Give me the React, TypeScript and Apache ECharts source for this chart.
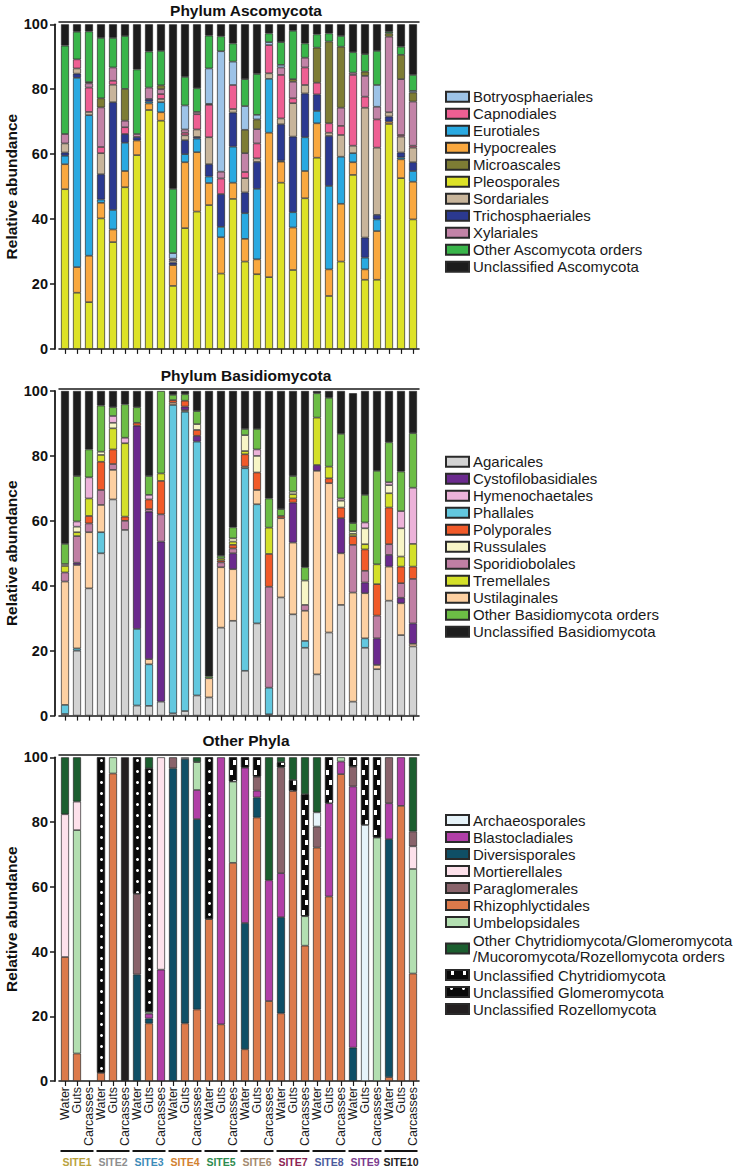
import React, { useEffect, useRef } from "react";
import * as echarts from "echarts";

const FONT = "'Liberation Sans', Arial, Helvetica, sans-serif";

const SITES = ["SITE1", "SITE2", "SITE3", "SITE4", "SITE5", "SITE6", "SITE7", "SITE8", "SITE9", "SITE10"];
const SITE_COLORS = ["#b9a23c", "#8e8e8e", "#3d8bb8", "#d2812f", "#2e8b4e", "#a48a6e", "#8c2452", "#4c5b9c", "#7b3b8d", "#222222"];
const SAMPLE_TYPES = ["Water", "Guts", "Carcasses"];
const CATEGORIES = SITES.flatMap((s) => SAMPLE_TYPES.map((t) => s + "|" + t));
const Y_TICKS = [0, 20, 40, 60, 80, 100];
const PANEL_TITLES = ["Phylum Ascomycota", "Phylum Basidiomycota", "Other Phyla"];
const Y_AXIS_NAME = "Relative abundance";

// ---------- Phylum Ascomycota (relative abundance, %) ----------
const pleosporales = [49.2, 17.3, 14.4, 40.2, 32.9, 49.8, 59.7, 73.6, 70.3, 19.4, 37.2, 42.3, 44.3, 23.2, 46.2, 26.9, 23.0, 22.1, 51.2, 24.3, 46.4, 58.9, 16.3, 26.9, 53.6, 21.3, 21.3, 69.3, 52.6, 39.9];
const hypocreales = [7.7, 7.9, 14.3, 4.8, 3.9, 5.0, 4.5, 2.0, 2.6, 6.4, 20.3, 18.3, 6.8, 11.2, 5.0, 7.0, 4.6, 44.5, 6.5, 13.1, 8.4, 10.6, 8.2, 17.8, 3.9, 3.2, 15.0, 0.7, 5.8, 11.6];
const eurotiales = [2.6, 58.3, 43.3, 1.0, 6.0, 8.7, 0, 0.6, 3.1, 0, 2.5, 4.2, 2.0, 3.2, 11.1, 7.9, 21.7, 16.6, 0.3, 4.7, 10.4, 3.8, 25.7, 14.5, 2.8, 3.6, 3.6, 0, 0.6, 3.3];
const trichosphaeriales = [1.0, 1.3, 0, 7.8, 33.2, 2.7, 1.1, 0.8, 0, 0.8, 4.3, 0.5, 3.8, 10.1, 10.5, 6.4, 8.3, 0, 11.2, 23.3, 13.5, 5.1, 15.4, 0, 0, 6.2, 1.4, 1.6, 1.5, 2.7];
const sordariales = [2.8, 1.6, 1.0, 6.5, 5.4, 0, 0, 0, 1.0, 0.7, 1.5, 2.3, 8.3, 0, 1.1, 4.4, 1.1, 1.7, 1.8, 10.3, 2.6, 0, 1.0, 6.7, 2.3, 40.0, 20.7, 1.3, 4.9, 4.5];
const capnodiales = [0, 2.8, 7.5, 1.9, 1.2, 2.1, 0, 0, 1.5, 0, 0.8, 4.7, 10.0, 4.8, 7.4, 1.9, 4.6, 8.7, 13.4, 1.5, 5.4, 3.6, 2.9, 2.8, 21.8, 3.4, 8.7, 0, 0.5, 0.6];
const xylariales = [2.9, 0, 1.3, 12.2, 4.1, 2.0, 0.9, 3.5, 1.5, 0.5, 1.0, 0.7, 0.3, 2.1, 0, 5.8, 4.4, 0, 2.3, 5.1, 3.0, 0, 0, 5.6, 0.7, 6.4, 3.9, 23.3, 17.2, 13.6];
const microascales = [0, 0, 0.4, 2.8, 0, 9.8, 0, 0, 1.2, 0, 0, 0, 0, 0, 0, 7.2, 3.0, 0, 0, 0.8, 0, 10.8, 25.2, 18.8, 0, 1.3, 0, 1.0, 7.5, 2.8];
const botryosphaeriales = [0, 0, 0, 0, 0, 0, 0, 0, 0, 1.7, 7.4, 0, 10.9, 37.1, 7.2, 7.3, 1.4, 0.9, 0.8, 0, 0, 0, 0, 0, 0, 0, 6.7, 0, 0, 0.5];
const otherAscomycota = [27.2, 8.5, 15.6, 18.6, 9.1, 16.3, 19.9, 11.1, 10.6, 19.8, 8.8, 7.3, 10.1, 4.6, 5.6, 8.3, 12.6, 2.7, 7.0, 14.9, 4.4, 4.1, 2.5, 3.3, 6.3, 5.4, 10.5, 0.5, 2.5, 4.9];
const unclassifiedAscomycota = [6.6, 2.3, 2.2, 4.2, 4.2, 3.6, 13.9, 8.4, 8.2, 50.7, 16.2, 19.7, 3.5, 3.7, 5.9, 16.9, 15.3, 2.8, 5.5, 2.0, 5.9, 3.1, 2.8, 3.6, 8.6, 9.2, 8.2, 2.3, 6.9, 15.6];

// ---------- Phylum Basidiomycota ----------
const agaricales = [0.5, 20.0, 39.2, 50.0, 66.6, 57.2, 3.1, 3.0, 4.3, 0.7, 1.4, 6.2, 5.6, 27.1, 29.2, 13.8, 28.4, 0.4, 36.4, 31.2, 20.9, 12.7, 25.6, 34.1, 4.3, 20.9, 14.3, 35.4, 24.8, 21.3];
const phallales = [2.8, 0.7, 0, 6.5, 0, 0, 23.6, 12.8, 0, 95.0, 92.2, 78.2, 0, 0, 0, 62.4, 36.7, 8.2, 0, 0, 2.1, 0, 0, 0, 0, 2.9, 0, 0, 0, 0];
const ustilaginales = [38.0, 25.7, 17.3, 8.4, 9.1, 0, 0, 1.6, 0, 0.7, 0.5, 0, 5.9, 18.6, 15.9, 0.5, 4.4, 0, 24.4, 22.1, 9.3, 62.7, 46.0, 15.9, 33.6, 13.9, 1.3, 10.5, 9.8, 0.8];
const cystofilobasidiales = [0, 0.7, 0, 0, 0, 0, 62.6, 45.4, 49.3, 0, 1.1, 1.8, 0, 0, 4.9, 0, 0, 0, 0, 12.3, 0, 1.8, 0, 10.8, 0, 3.3, 8.2, 3.6, 1.7, 6.3];
const sporidiobolales = [2.8, 8.2, 2.7, 4.6, 1.8, 2.8, 0, 0.8, 8.4, 0, 0, 0, 0, 1.5, 1.5, 0, 0, 31.1, 0, 0, 1.8, 0, 0, 0, 14.7, 3.6, 7.0, 3.3, 4.5, 13.7];
const polyporales = [0, 0, 2.3, 8.7, 4.5, 1.3, 0.9, 3.0, 10.3, 0.8, 1.8, 1.8, 0, 0.6, 1.1, 3.8, 5.4, 10.1, 0.7, 1.3, 0, 0, 1.5, 3.3, 2.7, 6.6, 9.7, 11.3, 5.1, 3.8];
const tremellales = [2.0, 1.2, 5.4, 2.1, 6.5, 22.6, 0, 0, 2.3, 0, 0, 0, 0, 0.6, 1.0, 1.0, 0, 8.1, 0, 1.3, 0, 14.6, 3.6, 0, 0.7, 1.6, 6.1, 4.4, 3.1, 7.0];
const russulales = [0.6, 1.7, 0, 1.0, 1.7, 0, 0, 0, 0, 0, 0, 1.8, 0, 0, 1.0, 4.9, 5.1, 0, 0, 0.8, 7.5, 0, 0, 2.1, 0.8, 4.9, 0, 2.5, 8.7, 0];
const hymenochaetales = [0, 1.6, 6.5, 0, 2.1, 1.7, 0, 1.4, 0, 0, 0, 0, 0, 0, 0, 0, 2.0, 0, 0, 0, 0, 0, 0, 0.7, 0, 1.8, 0, 0.9, 5.3, 17.3];
const otherBasidiomycota = [6.2, 14.0, 8.6, 14.2, 2.7, 10.3, 4.8, 5.8, 25.4, 1.6, 2.0, 4.0, 0.6, 0.8, 3.4, 1.9, 6.3, 9.0, 2.1, 4.8, 4.1, 7.5, 21.2, 19.9, 2.5, 8.5, 28.8, 12.3, 12.2, 16.8];
const unclassifiedBasidiomycota = [47.1, 26.2, 18.0, 4.5, 5.0, 4.1, 5.0, 26.2, 0, 1.2, 1.0, 6.2, 87.9, 50.8, 42.0, 11.7, 11.7, 33.1, 36.4, 26.2, 54.3, 0.7, 2.1, 13.2, 40.0, 32.0, 24.6, 15.8, 24.8, 13.0];

// ---------- Other Phyla ----------
const rhizophlyctidales = [38.3, 8.5, 0, 2.5, 95.0, 0, 0, 17.8, 0, 0, 17.8, 22.1, 50.0, 17.5, 67.4, 9.8, 81.4, 24.7, 20.9, 89.6, 41.8, 72.1, 57.0, 94.8, 0, 0, 0, 1.2, 85.0, 33.2];
const diversisporales = [0, 0, 0, 0, 0, 0, 32.9, 1.5, 0, 96.6, 81.7, 58.8, 0, 0, 0, 39.0, 6.2, 0, 29.7, 0, 0, 0, 0, 0, 10.3, 0, 0, 73.5, 0, 0];
const blastocladiales = [0, 0, 0, 0, 0, 0, 0, 1.5, 34.4, 0, 0, 9.0, 0, 82.5, 0, 48.0, 2.1, 37.3, 13.6, 0, 0, 0, 28.8, 3.9, 80.7, 0, 0, 11.1, 15.0, 0];
const umbelopsidales = [0, 69.0, 0, 0, 5.0, 0, 0, 0.6, 0, 0, 0, 8.6, 0, 0, 25.1, 0, 0, 0, 0, 0, 9.1, 0, 0, 1.3, 0, 0, 75.2, 0, 0, 32.3];
const mortierellales = [44.1, 8.8, 0, 0, 0, 0, 0, 0, 65.6, 0, 0, 0, 0, 0, 0, 0, 0, 0, 0, 0, 0, 0, 0, 0, 0, 0, 0, 0, 0, 7.0];
const paraglomerales = [0, 0, 0, 0, 0, 0, 24.9, 0, 0, 3.4, 0, 0, 0, 0, 0, 0, 4.3, 0, 32.7, 0, 0, 6.5, 0, 0, 6.1, 0, 0, 14.2, 0, 4.6];
const archaeosporales = [0, 0, 0, 0, 0, 0, 0, 0, 0, 0, 0.5, 0, 0, 0, 0, 0, 0, 0, 0, 0, 0, 4.4, 0, 0, 0, 79.1, 0, 0, 0, 0];
const unclassifiedGlomeromycota = [0, 0, 0, 97.5, 0, 0, 42.2, 75.2, 0, 0, 0, 0, 50.0, 0, 0, 0, 0, 0, 0, 0, 0, 0, 0, 0, 0, 0, 0, 0, 0, 0];
const unclassifiedChytridiomycota = [0, 0, 0, 0, 0, 0, 0, 0, 0, 0, 0, 0, 0, 0, 7.5, 3.2, 6.0, 0, 1.6, 3.4, 37.7, 0, 14.2, 0, 2.9, 20.9, 24.8, 0, 0, 0];
const unclassifiedRozellomycota = [0, 0, 0, 0, 0, 100, 0, 0, 0, 0, 0, 0, 0, 0, 0, 0, 0, 0, 0, 0, 0, 0, 0, 0, 0, 0, 0, 0, 0, 0];
const otherOrders = [17.6, 13.7, 0, 0, 0, 0, 0, 3.4, 0, 0, 0, 1.5, 0, 0, 0, 0, 0, 38.0, 1.5, 7.0, 11.4, 17.0, 0, 0, 0, 0, 0, 0, 0, 22.9];

const OTHER_ORDERS_NAME = "Other Chytridiomycota/Glomeromycota\n/Mucoromycota/Rozellomycota orders";

const DOTS_DECAL = { symbol: "circle", symbolSize: 1, color: "#ffffff", dashArrayX: [[0, 4, 3, 5]], dashArrayY: [3, 8], rotation: 0 };
const SQUARES_DECAL = { symbol: "rect", symbolSize: 1, color: "#ffffff", dashArrayX: [[0, 2, 3, 7], [0, 5, 3, 4]], dashArrayY: [5, 5], rotation: 0 };

type S = { name: string; color: string; data: number[]; decal?: any };

// stacking order (bottom -> top)
const ASCO_SERIES: S[] = [
  { name: "Pleosporales", color: "#dde227", data: pleosporales },
  { name: "Hypocreales", color: "#f9a83f", data: hypocreales },
  { name: "Eurotiales", color: "#29a9e1", data: eurotiales },
  { name: "Trichosphaeriales", color: "#2b3990", data: trichosphaeriales },
  { name: "Sordariales", color: "#c8b59b", data: sordariales },
  { name: "Capnodiales", color: "#ee5f93", data: capnodiales },
  { name: "Xylariales", color: "#c283a7", data: xylariales },
  { name: "Microascales", color: "#7d7c34", data: microascales },
  { name: "Botryosphaeriales", color: "#9dc3e7", data: botryosphaeriales },
  { name: "Other Ascomycota orders", color: "#39b54a", data: otherAscomycota },
  { name: "Unclassified Ascomycota", color: "#1c1c1c", data: unclassifiedAscomycota },
];
const ASCO_LEGEND = ["Botryosphaeriales", "Capnodiales", "Eurotiales", "Hypocreales", "Microascales", "Pleosporales", "Sordariales", "Trichosphaeriales", "Xylariales", "Other Ascomycota orders", "Unclassified Ascomycota"];

const BASIDIO_SERIES: S[] = [
  { name: "Agaricales", color: "#d3d3d3", data: agaricales },
  { name: "Phallales", color: "#63c8df", data: phallales },
  { name: "Ustilaginales", color: "#fdd0a2", data: ustilaginales },
  { name: "Cystofilobasidiales", color: "#6b2a8e", data: cystofilobasidiales },
  { name: "Sporidiobolales", color: "#c07fa4", data: sporidiobolales },
  { name: "Polyporales", color: "#f15a29", data: polyporales },
  { name: "Tremellales", color: "#d4e02a", data: tremellales },
  { name: "Russulales", color: "#f7f5c6", data: russulales },
  { name: "Hymenochaetales", color: "#ecb2d9", data: hymenochaetales },
  { name: "Other Basidiomycota orders", color: "#6cbd45", data: otherBasidiomycota },
  { name: "Unclassified Basidiomycota", color: "#1e1e1e", data: unclassifiedBasidiomycota },
];
const BASIDIO_LEGEND = ["Agaricales", "Cystofilobasidiales", "Hymenochaetales", "Phallales", "Polyporales", "Russulales", "Sporidiobolales", "Tremellales", "Ustilaginales", "Other Basidiomycota orders", "Unclassified Basidiomycota"];

const OTHER_SERIES: S[] = [
  { name: "Rhizophlyctidales", color: "#dc7a4b", data: rhizophlyctidales },
  { name: "Diversisporales", color: "#0f4f66", data: diversisporales },
  { name: "Blastocladiales", color: "#b13fa7", data: blastocladiales },
  { name: "Umbelopsidales", color: "#b3dfb1", data: umbelopsidales },
  { name: "Mortierellales", color: "#fde1eb", data: mortierellales },
  { name: "Paraglomerales", color: "#89636b", data: paraglomerales },
  { name: "Archaeosporales", color: "#e6f3f9", data: archaeosporales },
  { name: "Unclassified Glomeromycota", color: "#0a0a0a", data: unclassifiedGlomeromycota, decal: DOTS_DECAL },
  { name: "Unclassified Chytridiomycota", color: "#0a0a0a", data: unclassifiedChytridiomycota, decal: SQUARES_DECAL },
  { name: "Unclassified Rozellomycota", color: "#231f20", data: unclassifiedRozellomycota },
  { name: OTHER_ORDERS_NAME, color: "#1b5e2f", data: otherOrders },
];
const OTHER_LEGEND = ["Archaeosporales", "Blastocladiales", "Diversisporales", "Mortierellales", "Paraglomerales", "Rhizophlyctidales", "Umbelopsidales", OTHER_ORDERS_NAME, "Unclassified Chytridiomycota", "Unclassified Glomeromycota", "Unclassified Rozellomycota"];

const PANELS = [
  { series: ASCO_SERIES, legend: ASCO_LEGEND },
  { series: BASIDIO_SERIES, legend: BASIDIO_LEGEND },
  { series: OTHER_SERIES, legend: OTHER_LEGEND },
];

// layout
const GRID_LEFT = 59;
const GRID_WIDTH = 360;
const GRID_TOPS = [24.3, 391, 757.3];
const GRID_HEIGHT = 324.6;
const TITLE_TOPS = [2, 367, 732];
const LEGEND_TOPS = [88.2, 453.2, 811.5];
const AXIS_COLOR = "#1a1a1a";

function buildOption() {
  const grid = GRID_TOPS.map((top) => ({ left: GRID_LEFT, top, width: GRID_WIDTH, height: GRID_HEIGHT }));
  const title = PANEL_TITLES.map((t, i) => ({
    text: t,
    left: 246,
    top: TITLE_TOPS[i],
    padding: 0,
    textAlign: "center",
    textStyle: { fontFamily: FONT, fontSize: 15.5, fontWeight: "bold", color: "#111" },
  }));
  const xAxis: any[] = [];
  const yAxis: any[] = [];
  const series: any[] = [];
  const legend: any[] = [];
  PANELS.forEach((panel, g) => {
    const mainIndex = xAxis.length;
    xAxis.push({
      type: "category",
      gridIndex: g,
      position: "bottom",
      data: CATEGORIES,
      axisLine: { show: true, lineStyle: { color: AXIS_COLOR, width: 1.6 } },
      axisTick: { show: true, alignWithLabel: true, interval: 0, length: 5, lineStyle: { color: AXIS_COLOR, width: 1.2 } },
      axisLabel: {
        show: g === 2,
        interval: 0,
        rotate: 90,
        margin: 6,
        fontFamily: FONT,
        fontSize: 12.5,
        color: "#1a1a1a",
        formatter: (v: string) => v.split("|")[1],
      },
      splitLine: { show: false },
    });
    xAxis.push({
      type: "category",
      gridIndex: g,
      position: "top",
      offset: 2.7,
      data: CATEGORIES,
      axisLine: { show: true, lineStyle: { color: AXIS_COLOR, width: 1.5 } },
      axisTick: { show: false },
      axisLabel: { show: false },
    });
    if (g === 2) {
      const rich: any = { l: { width: 33, height: 2.2, lineHeight: 8, backgroundColor: "#151515" } };
      SITES.forEach((s, i) => {
        rich["s" + i] = { color: SITE_COLORS[i], fontFamily: FONT, fontSize: 10.5, fontWeight: "bold", lineHeight: 13 };
      });
      xAxis.push({
        type: "category",
        gridIndex: g,
        position: "bottom",
        data: SITES,
        axisLine: { show: false },
        axisTick: { show: false },
        axisLabel: {
          interval: 0,
          margin: 66,
          formatter: (v: string, i: number) => "{l| }\n{s" + i + "|" + v + "}",
          rich,
        },
      });
    }
    yAxis.push({
      type: "value",
      gridIndex: g,
      min: Y_TICKS[0],
      max: Y_TICKS[Y_TICKS.length - 1],
      interval: Y_TICKS[1] - Y_TICKS[0],
      offset: 4,
      name: Y_AXIS_NAME,
      nameLocation: "middle",
      nameGap: 35,
      nameTextStyle: { fontFamily: FONT, fontSize: 15.5, fontWeight: "bold", color: "#111" },
      axisLine: { show: true, lineStyle: { color: AXIS_COLOR, width: 1.8 } },
      axisTick: { show: true, length: 5, lineStyle: { color: AXIS_COLOR, width: 1.5 } },
      axisLabel: { fontFamily: FONT, fontSize: 14.5, fontWeight: "bold", color: "#111", margin: 7 },
      splitLine: { show: false },
    });
    panel.series.forEach((s) => {
      series.push({
        type: "bar",
        name: s.name,
        xAxisIndex: mainIndex,
        yAxisIndex: g,
        stack: "panel" + g,
        barWidth: 8,
        data: s.data.map((v) => (v === 0 ? "-" : v)),
        itemStyle: { color: s.color, borderColor: "#2a2a2a", borderWidth: 0.7, ...(s.decal ? { decal: s.decal } : {}) },
        emphasis: { disabled: true },
      });
    });
    legend.push({
      data: panel.legend.map((n) =>
        n === OTHER_ORDERS_NAME ? { name: n, textStyle: { padding: [4, 0, 0, -1], lineHeight: 16 } } : n
      ),
      orient: "vertical",
      left: 445,
      top: LEGEND_TOPS[g],
      padding: 0,
      itemGap: 0,
      itemWidth: 23,
      itemHeight: 10,
      icon: "rect",
      selectedMode: false,
      textStyle: { fontFamily: FONT, fontSize: 15, lineHeight: 17, color: "#1a1a1a", padding: [0, 0, 0, -1] },
    });
  });
  return {
    animation: false,
    backgroundColor: "#ffffff",
    textStyle: { fontFamily: FONT },
    title,
    grid,
    xAxis,
    yAxis,
    legend,
    tooltip: { show: false },
    series,
  };
}

export default function App() {
  const ref = useRef<HTMLDivElement>(null);
  useEffect(() => {
    document.body.style.margin = "0";
    if (!ref.current) return;
    const chart = echarts.init(ref.current, undefined, { renderer: "svg" });
    chart.setOption(buildOption() as any);
    return () => chart.dispose();
  }, []);
  return <div ref={ref} style={{ width: 733, height: 1167 }} />;
}
